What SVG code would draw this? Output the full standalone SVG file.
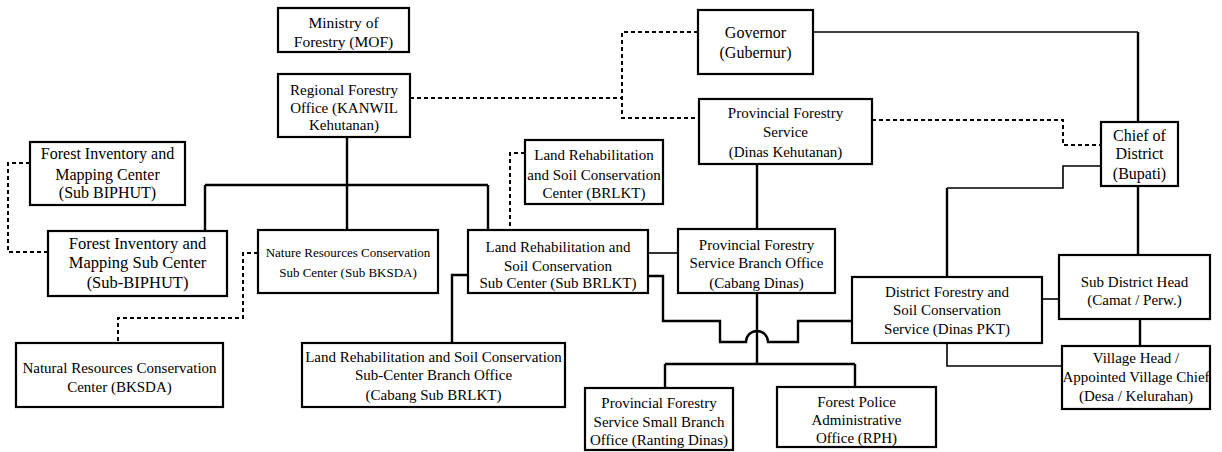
<svg xmlns="http://www.w3.org/2000/svg" width="1222" height="452" viewBox="0 0 1222 452">
<style>
.box{fill:#fff;stroke:#000;stroke-width:2.2}
text{font-family:"Liberation Serif","Times New Roman",serif;font-size:15px;fill:#000;text-anchor:middle}
.s{fill:none;stroke:#000;stroke-width:2.4}
.t{fill:none;stroke:#000;stroke-width:1.6}
.d{fill:none;stroke:#000;stroke-width:2;stroke-dasharray:4 3}
</style>
<rect width="1222" height="452" fill="#fff"/>
<g id="connectors">
<path class="s" d="M347,137V230M205,185H488M205,185V231M488,185V230"/>
<path class="s" d="M468,275H452V343"/>
<path class="t" d="M648,253H678"/>
<path class="s" d="M648,276H663V321H720V342H746A11,11 0 0 1 768,342H798V321H852"/>
<path class="s" d="M757,164V229M757,293V364M665,364H855M665,364V388M855,364V387"/>
<path class="t" d="M813,32H1138"/>
<path class="s" d="M1138,32V122"/>
<path class="t" d="M1101,166H1063V188H947"/>
<path class="s" d="M947,188V277M1138,186V255M1140,319V346"/>
<path class="t" d="M1042,299H1059"/>
<path class="t" d="M947,343V366H1062"/>
<path class="d" d="M30,163H8V252H48"/>
<path class="d" d="M258,253H243V318H118V343"/>
<path class="d" d="M410,98H622"/>
<path class="d" d="M698,32H622V118H699"/>
<path class="d" d="M525,153H510V230"/>
<path class="d" d="M872,120H1063V145H1101"/>
</g>
<g id="mof"><rect class="box" x="278" y="8" width="131" height="44"/><text x="343.5" y="28" style="font-size:15.5px">Ministry of</text><text x="343.5" y="47" style="font-size:15.5px">Forestry (MOF)</text></g>
<g id="kanwil"><rect class="box" x="278" y="74" width="132" height="63"/><text x="344" y="95">Regional Forestry</text><text x="344" y="113">Office (KANWIL</text><text x="344" y="130">Kehutanan)</text></g>
<g id="governor"><rect class="box" x="698" y="10" width="115" height="64"/><text x="755.5" y="38" style="font-size:16px">Governor</text><text x="755.5" y="58" style="font-size:16px">(Gubernur)</text></g>
<g id="pfs"><rect class="box" x="699" y="99" width="173" height="65"/><text x="785.5" y="118">Provincial Forestry</text><text x="785.5" y="137">Service</text><text x="785.5" y="157">(Dinas Kehutanan)</text></g>
<g id="chief"><rect class="box" x="1101" y="122" width="77" height="64"/><text x="1139.5" y="141" style="font-size:16px">Chief of</text><text x="1139.5" y="159" style="font-size:16px">District</text><text x="1139.5" y="179" style="font-size:16px">(Bupati)</text></g>
<g id="fimc"><rect class="box" x="30" y="142" width="155" height="63"/><text x="107.5" y="159" style="font-size:16px">Forest Inventory and</text><text x="107.5" y="180" style="font-size:16px">Mapping Center</text><text x="107.5" y="198" style="font-size:16px">(Sub BIPHUT)</text></g>
<g id="brlkt"><rect class="box" x="525" y="140" width="138" height="64"/><text x="594" y="160">Land Rehabilitation</text><text x="594" y="180">and Soil Conservation</text><text x="594" y="198">Center (BRLKT)</text></g>
<g id="fimsc"><rect class="box" x="48" y="231" width="179" height="65"/><text x="137.5" y="249" style="font-size:16.5px">Forest Inventory and</text><text x="137.5" y="268" style="font-size:16.5px">Mapping Sub Center</text><text x="137.5" y="288" style="font-size:16.5px">(Sub-BIPHUT)</text></g>
<g id="nature"><rect class="box" x="258" y="230" width="180" height="63"/><text x="348" y="257" style="font-size:13px">Nature Resources Conservation</text><text x="348" y="277" style="font-size:13px">Sub Center (Sub BKSDA)</text></g>
<g id="subbrlkt"><rect class="box" x="468" y="230" width="180" height="63"/><text x="558" y="252">Land Rehabilitation and</text><text x="558" y="271">Soil Conservation</text><text x="558" y="288">Sub Center (Sub BRLKT)</text></g>
<g id="cabangdinas"><rect class="box" x="678" y="229" width="157" height="64"/><text x="756.5" y="250">Provincial Forestry</text><text x="756.5" y="268">Service Branch Office</text><text x="756.5" y="288">(Cabang Dinas)</text></g>
<g id="dinaspkt"><rect class="box" x="852" y="277" width="190" height="66"/><text x="947" y="297">District Forestry and</text><text x="947" y="315">Soil Conservation</text><text x="947" y="334">Service (Dinas PKT)</text></g>
<g id="subdistrict"><rect class="box" x="1059" y="255" width="151" height="64"/><text x="1134.5" y="287">Sub District Head</text><text x="1134.5" y="305">(Camat / Perw.)</text></g>
<g id="village"><rect class="box" x="1062" y="346" width="148" height="63"/><text x="1136" y="363">Village Head /</text><text x="1136" y="382">Appointed Village Chief</text><text x="1136" y="401">(Desa / Kelurahan)</text></g>
<g id="bksda"><rect class="box" x="16" y="343" width="207" height="64"/><text x="119.5" y="373">Natural Resources Conservation</text><text x="119.5" y="392">Center (BKSDA)</text></g>
<g id="cabangsub"><rect class="box" x="302" y="343" width="263" height="64"/><text x="433.5" y="362">Land Rehabilitation and Soil Conservation</text><text x="433.5" y="380">Sub-Center Branch Office</text><text x="433.5" y="400">(Cabang Sub BRLKT)</text></g>
<g id="ranting"><rect class="box" x="585" y="388" width="148" height="62"/><text x="659" y="408">Provincial Forestry</text><text x="659" y="427">Service Small Branch</text><text x="659" y="445">Office (Ranting Dinas)</text></g>
<g id="rph"><rect class="box" x="777" y="387" width="159" height="60"/><text x="856.5" y="407">Forest Police</text><text x="856.5" y="425">Administrative</text><text x="856.5" y="443">Office (RPH)</text></g>
</svg>
